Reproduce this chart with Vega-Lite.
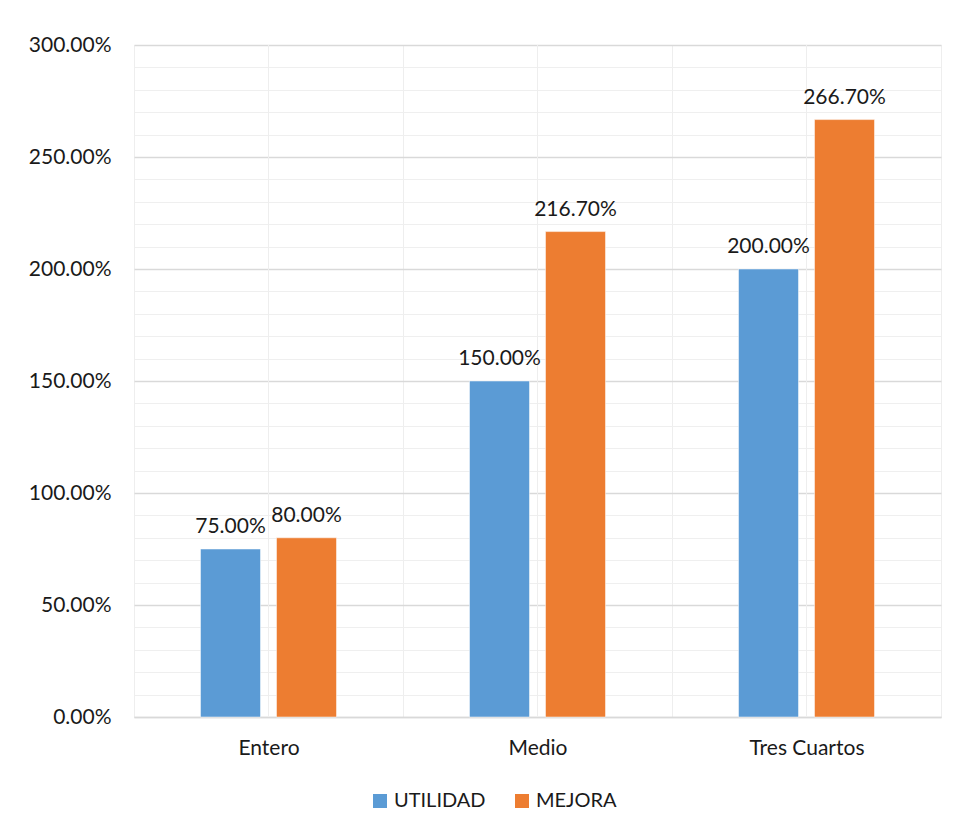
{
  "$schema": "https://vega.github.io/schema/vega-lite/v6.json",
  "width": 807,
  "height": 672,
  "autosize": {"type": "none"},
  "padding": {"left": 134, "top": 45, "right": 17, "bottom": 115},
  "background": "white",
  "config": {
    "font": "Lato",
    "view": {"stroke": null},
    "axis": {"labelFont": "Lato", "labelFontSize": 21, "labelColor": "#1a1a1a"}
  },
  "data": {
    "values": [
      {"categoria": "Entero", "serie": "UTILIDAD", "valor": 0.75},
      {"categoria": "Entero", "serie": "MEJORA", "valor": 0.80},
      {"categoria": "Medio", "serie": "UTILIDAD", "valor": 1.50},
      {"categoria": "Medio", "serie": "MEJORA", "valor": 2.167},
      {"categoria": "Tres Cuartos", "serie": "UTILIDAD", "valor": 2.00},
      {"categoria": "Tres Cuartos", "serie": "MEJORA", "valor": 2.667}
    ]
  },
  "encoding": {
    "x": {
      "field": "categoria",
      "type": "nominal",
      "sort": ["Entero", "Medio", "Tres Cuartos"],
      "scale": {"paddingInner": 0, "paddingOuter": 0},
      "axis": {
        "title": null,
        "labelAngle": 0,
        "labelPadding": 20,
        "ticks": false,
        "tickBand": "extent",
        "grid": true,
        "gridColor": "#eeeeee",
        "gridWidth": 1,
        "domain": true,
        "domainColor": "#d9d9d9",
        "domainWidth": 1.5
      }
    }
  },
  "layer": [
    {
      "mark": {"type": "rule", "color": "#eeeeee", "strokeWidth": 1},
      "encoding": {}
    },
    {
      "mark": {"type": "bar", "stroke": "white", "strokeWidth": 0.5},
      "encoding": {
        "xOffset": {
          "field": "serie",
          "type": "nominal",
          "sort": ["UTILIDAD", "MEJORA"],
          "scale": {"paddingInner": 0.2105, "paddingOuter": 0.875}
        },
        "y": {
          "field": "valor",
          "type": "quantitative",
          "scale": {"domain": [0, 3], "nice": false},
          "axis": {
            "orient": "right",
            "title": null,
            "labels": false,
            "ticks": false,
            "domain": false,
            "minExtent": 0,
            "values": [0, 0.1, 0.2, 0.3, 0.4, 0.5, 0.6, 0.7, 0.8, 0.9, 1.0, 1.1, 1.2, 1.3, 1.4, 1.5, 1.6, 1.7, 1.8, 1.9, 2.0, 2.1, 2.2, 2.3, 2.4, 2.5, 2.6, 2.7, 2.8, 2.9, 3.0],
            "grid": true,
            "gridColor": "#efefef",
            "gridWidth": 1
          }
        },
        "color": {
          "field": "serie",
          "type": "nominal",
          "scale": {"domain": ["UTILIDAD", "MEJORA"], "range": ["#5b9bd5", "#ed7d31"]},
          "legend": {
            "title": null,
            "orient": "none",
            "direction": "horizontal",
            "legendX": 236,
            "legendY": 746,
            "symbolType": "square",
            "symbolSize": 196,
            "symbolStrokeWidth": 0,
            "labelFont": "Lato",
            "labelFontSize": 20,
            "labelColor": "#1a1a1a",
            "labelOffset": 4,
            "columnPadding": 26,
            "padding": 0
          }
        }
      }
    },
    {
      "mark": {"type": "text", "baseline": "alphabetic", "dy": -16, "fontSize": 21, "font": "Lato", "color": "#1a1a1a"},
      "encoding": {
        "xOffset": {
          "field": "serie",
          "type": "nominal",
          "sort": ["UTILIDAD", "MEJORA"],
          "scale": {"paddingInner": 0.2105, "paddingOuter": 0.875}
        },
        "y": {
          "field": "valor",
          "type": "quantitative",
          "axis": {
            "orient": "left",
            "title": null,
            "format": ".2%",
            "values": [0, 0.5, 1.0, 1.5, 2.0, 2.5, 3.0],
            "ticks": false,
            "domain": false,
            "labelPadding": 23,
            "grid": true,
            "gridColor": "#d9d9d9",
            "gridWidth": 1.5
          }
        },
        "text": {"field": "valor", "type": "quantitative", "format": ".2%"}
      }
    }
  ],
  "resolve": {"axis": {"y": "independent"}}
}
